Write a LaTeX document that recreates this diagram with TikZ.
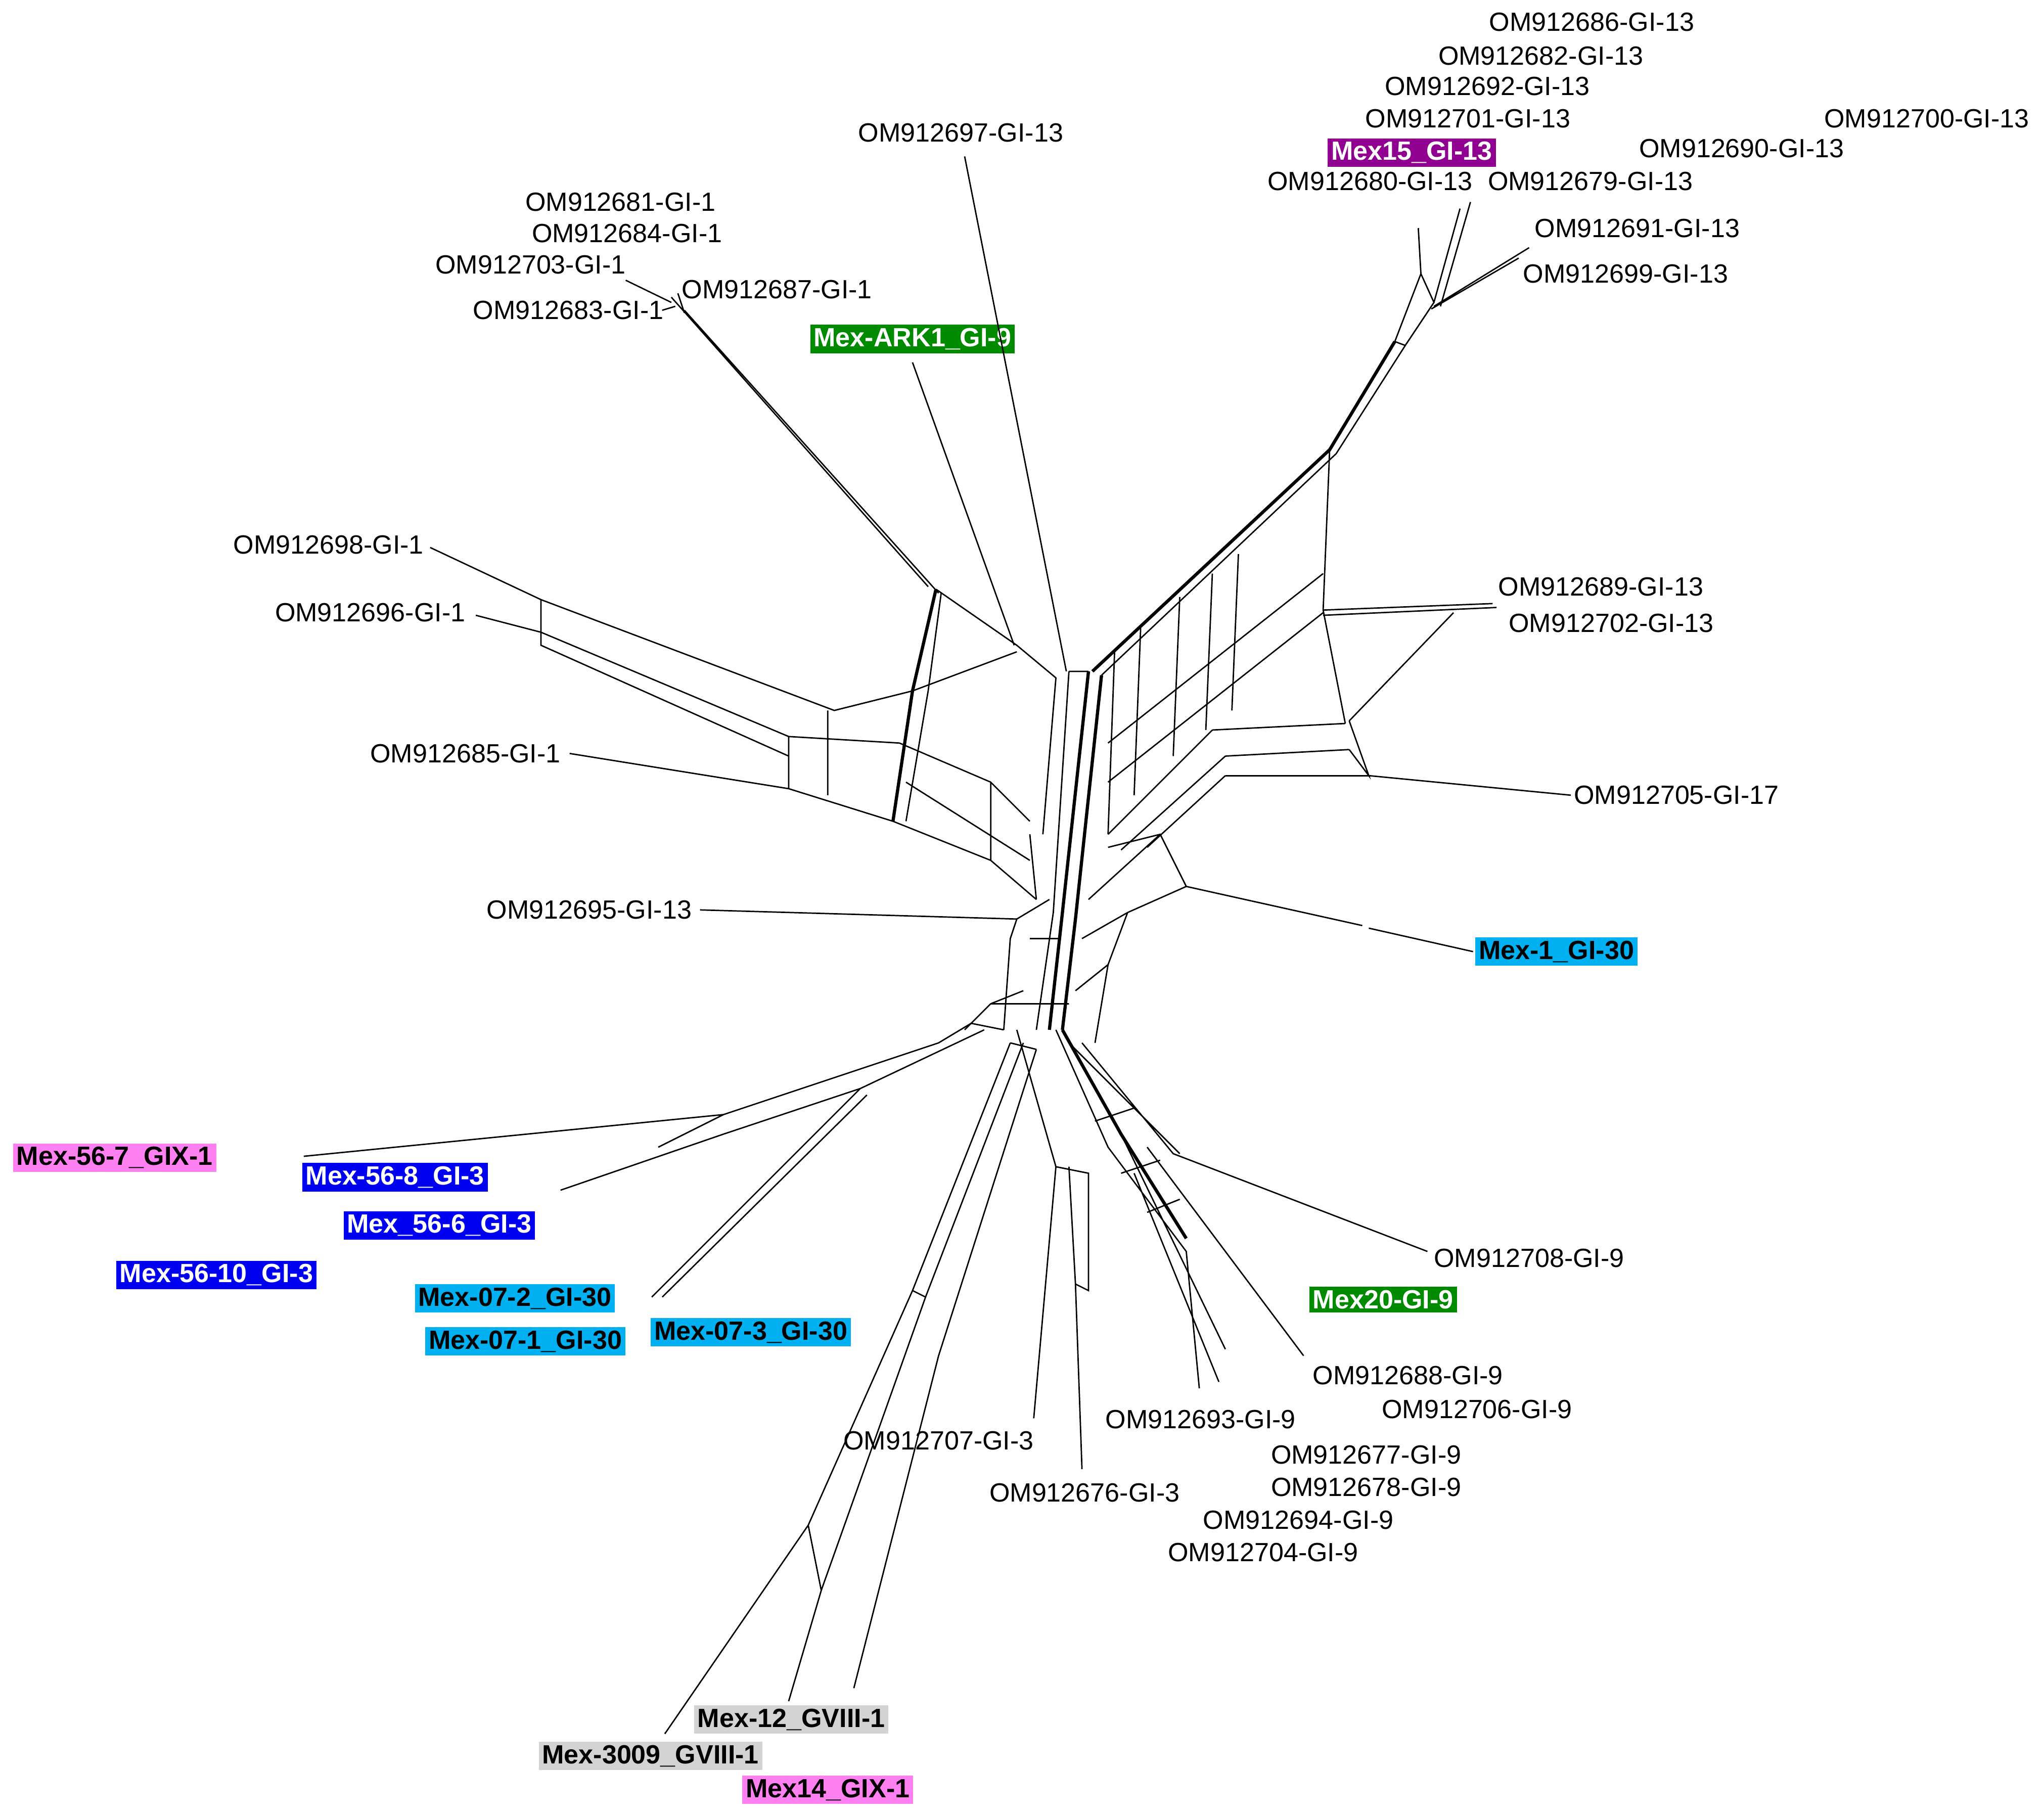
\documentclass[tikz,border=0pt]{standalone}
\usepackage{fontspec}
\setmainfont{Liberation Sans}
\definecolor{cpur}{HTML}{900090}
\definecolor{cgrn}{HTML}{008A00}
\definecolor{ccya}{HTML}{00B0F0}
\definecolor{cblu}{HTML}{0000F0}
\definecolor{cpnk}{HTML}{FF80F0}
\definecolor{cgry}{HTML}{D3D3D3}
\begin{document}
\begin{tikzpicture}[x=0.02cm,y=-0.02cm,
 lab/.style={font=\fontsize{11.5}{12}\selectfont,inner sep=1pt},
 hl/.style={font=\bfseries\fontsize{11.5}{12}\selectfont,inner sep=1.5pt},
 net/.style={line width=0.6pt},
 thk/.style={line width=1.4pt}]
\useasboundingbox (0,0) rectangle (1568,1392);
% labels
\foreach \t/\x/\y in {OM912686-GI-13/1221/17,OM912682-GI-13/1182/43,OM912692-GI-13/1141/66,OM912701-GI-13/1126/91,OM912680-GI-13/1051/139,OM912679-GI-13/1220/139,OM912700-GI-13/1478/91,OM912690-GI-13/1336/114,OM912691-GI-13/1256/175,OM912699-GI-13/1247/210,OM912697-GI-13/737/102,OM912681-GI-1/476/155,OM912684-GI-1/481/179,OM912703-GI-1/407/203,OM912687-GI-1/596/222,OM912683-GI-1/436/238,OM912698-GI-1/252/418,OM912696-GI-1/284/470,OM912689-GI-13/1228/450,OM912702-GI-13/1236/478,OM912685-GI-1/357/578,OM912705-GI-17/1286/610,OM912695-GI-13/452/698,OM912708-GI-9/1173/965,OM912688-GI-9/1080/1055,OM912706-GI-9/1133/1081,OM912693-GI-9/921/1089,OM912707-GI-3/720/1105,OM912677-GI-9/1048/1116,OM912678-GI-9/1048/1141,OM912676-GI-3/832/1145,OM912694-GI-9/996/1166,OM912704-GI-9/969/1191}
  \node[lab] (n\x\y) at (\x,\y) {\t};
\node[hl,fill=cpur,text=white] (m15) at (1083,117) {Mex15\_GI-13};
\node[hl,fill=cgrn,text=white] (ark) at (700,260) {Mex-ARK1\_GI-9};
\node[hl,fill=ccya] (m1) at (1194,730) {Mex-1\_GI-30};
\node[hl,fill=cpnk] (m567) at (88,888) {Mex-56-7\_GIX-1};
\node[hl,fill=cblu,text=white] (m568) at (303,903) {Mex-56-8\_GI-3};
\node[hl,fill=cblu,text=white] (m566) at (337,940) {Mex\_56-6\_GI-3};
\node[hl,fill=cblu,text=white] (m5610) at (166,978) {Mex-56-10\_GI-3};
\node[hl,fill=ccya] (m072) at (395,996) {Mex-07-2\_GI-30};
\node[hl,fill=ccya] (m071) at (403,1029) {Mex-07-1\_GI-30};
\node[hl,fill=ccya] (m073) at (576,1022) {Mex-07-3\_GI-30};
\node[hl,fill=cgrn,text=white] (m20) at (1061,997) {Mex20-GI-9};
\node[hl,fill=cgry] (m12) at (607,1319) {Mex-12\_GVIII-1};
\node[hl,fill=cgry] (m3009) at (499,1347) {Mex-3009\_GVIII-1};
\node[hl,fill=cpnk] (m14) at (635,1373) {Mex14\_GIX-1};
% network: top right
\draw[net] (1088,175)--(1090,210) (1120,160)--(1100,232) (1128,155)--(1105,235) (1173,190)--(1100,235) (1165,198)--(1098,237);
\draw[net] (1090,210)--(1070,262)--(1078,265)--(1100,232)--(1090,210);
\draw[thk] (1070,262)--(1020,345)--(838,515);
\draw[net] (1078,265)--(1025,348)--(845,518);
\draw[net] (1020,345)--(1015,468)--(1032,555);
\draw[net] (1015,468)--(1145,463) (1015,472)--(1148,466) (1115,470)--(1035,553);
\draw[net] (1015,470)--(850,600) (1015,440)--(850,570) (1032,555)--(930,560) (1035,575)--(940,580);
\draw[net] (950,425)--(945,545) (930,440)--(925,560) (905,458)--(900,580) (875,482)--(870,610) (855,500)--(850,640);
\draw[net] (930,560)--(850,640) (940,580)--(860,652) (1035,553)--(1050,595)--(1035,575) (940,595)--(880,650) (1050,595)--(1205,610);
\draw[net] (940,595)--(1050,595);
% Mex-1
\draw[net] (910,680)--(1045,710) (1050,712)--(1130,730);
\draw[net] (910,680)--(890,640)--(850,650) (910,680)--(865,700)--(850,740)--(840,800) (890,640)--(835,690) (865,700)--(830,720) (850,740)--(825,760);
% spine
\draw[thk] (835,515)--(815,700)--(805,790);
\draw[net] (820,515)--(808,700)--(795,790) (820,515)--(835,515);
\draw[thk] (845,518)--(825,705)--(815,790);
\draw[net] (780,705)--(805,690) (780,705)--(775,720)--(770,790) (790,640)--(795,690) (790,720)--(812,720) (760,770)--(820,770) (740,790)--(760,770)--(785,760);
% top left
\draw[net] (740,120)--(818,515) (700,278)--(778,495);
\draw[net] (480,215)--(515,232) (508,238)--(518,235) (515,228)--(712,450) (525,238)--(720,455) (520,225)--(525,240);
\draw[thk] (718,452)--(700,530)--(685,630);
\draw[net] (722,455)--(712,530)--(695,630) (718,452)--(780,495)--(810,520)--(800,640);
\draw[net] (330,420)--(415,460)--(640,545)--(700,530)--(780,500) (365,472)--(415,485)--(605,565) (415,460)--(415,495)--(605,580);
\draw[net] (605,565)--(690,570)--(760,600)--(790,630) (605,605)--(685,630)--(760,660)--(795,690) (635,545)--(635,610) (605,565)--(605,605) (760,600)--(760,660) (437,578)--(605,605) (695,600)--(790,660);
\draw[net] (537,698)--(780,705);
% bottom left
\draw[net] (745,785)--(720,800)--(555,855)--(233,887) (755,790)--(660,835)--(555,870)--(430,913) (555,855)--(505,880) (660,835)--(500,995) (665,840)--(508,995) (745,785)--(770,790);
\draw[net] (775,800)--(700,990)--(620,1170)--(510,1330) (785,800)--(710,995)--(630,1220)--(605,1305) (700,990)--(710,995) (620,1170)--(630,1220) (795,805)--(720,1040)--(655,1295) (775,800)--(795,805);
\draw[net] (810,895)--(793,1088) (820,895)--(825,985)--(830,1127) (810,895)--(835,900)--(835,990)--(825,985);
\draw[net] (780,790)--(810,895);
% bottom right
\draw[net] (810,790)--(850,880)--(910,960)--(920,1065) (830,800)--(900,885)--(1095,960) (880,880)--(1000,1040) (860,870)--(940,1035) (870,900)--(935,1060) (850,830)--(905,885) (820,800)--(850,830) (840,860)--(870,850) (860,900)--(890,890) (880,930)--(905,920);
\draw[thk] (815,790)--(860,870)--(910,950);
\end{tikzpicture}
\end{document}
